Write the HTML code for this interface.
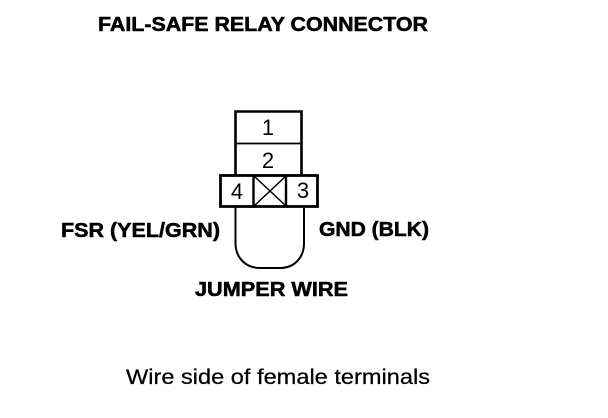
<!DOCTYPE html>
<html>
<head>
<meta charset="utf-8">
<style>
html,body{margin:0;padding:0;background:#fff;}
svg{display:block;}
text{font-family:"Liberation Sans",sans-serif;fill:#000;}
.b{font-weight:bold;font-size:20.5px;stroke:#000;stroke-width:.55px;}
.n{font-size:22px;}
</style>
</head>
<body>
<svg width="608" height="418" viewBox="0 0 608 418" xmlns="http://www.w3.org/2000/svg">
<rect width="608" height="418" fill="#fff"/>
<text class="b" x="98" y="31" textLength="330" lengthAdjust="spacingAndGlyphs">FAIL-SAFE RELAY CONNECTOR</text>
<g fill="none" stroke="#000">
<path d="M235.5 176V111.5H301.5V176" stroke-width="2.6"/>
<path d="M235 143.5H302" stroke-width="1.8"/>
<rect x="220.5" y="175.5" width="97" height="31" stroke-width="2.8"/>
<path d="M253.5 175V207M286 175V207" stroke-width="2.4"/>
<path d="M254 176L286 206M286 176L254 206" stroke-width="1.5"/>
<path d="M235.5 207V243C235.5 258 246 268 260 268H280C294 268 304 258 304 243V207" stroke-width="2"/>
</g>
<text class="n" x="268" y="135" text-anchor="middle">1</text>
<text class="n" x="268" y="168" text-anchor="middle">2</text>
<text class="n" x="237" y="199" text-anchor="middle">4</text>
<text class="n" x="303" y="198" text-anchor="middle">3</text>
<text class="b" x="61" y="237" textLength="159" lengthAdjust="spacingAndGlyphs">FSR (YEL/GRN)</text>
<text class="b" x="319" y="236" textLength="110" lengthAdjust="spacingAndGlyphs">GND (BLK)</text>
<text class="b" x="195" y="296" textLength="153" lengthAdjust="spacingAndGlyphs">JUMPER WIRE</text>
<text x="126" y="384" font-size="21" stroke="#000" stroke-width=".25" textLength="304" lengthAdjust="spacingAndGlyphs">Wire side of female terminals</text>
</svg>
</body>
</html>
